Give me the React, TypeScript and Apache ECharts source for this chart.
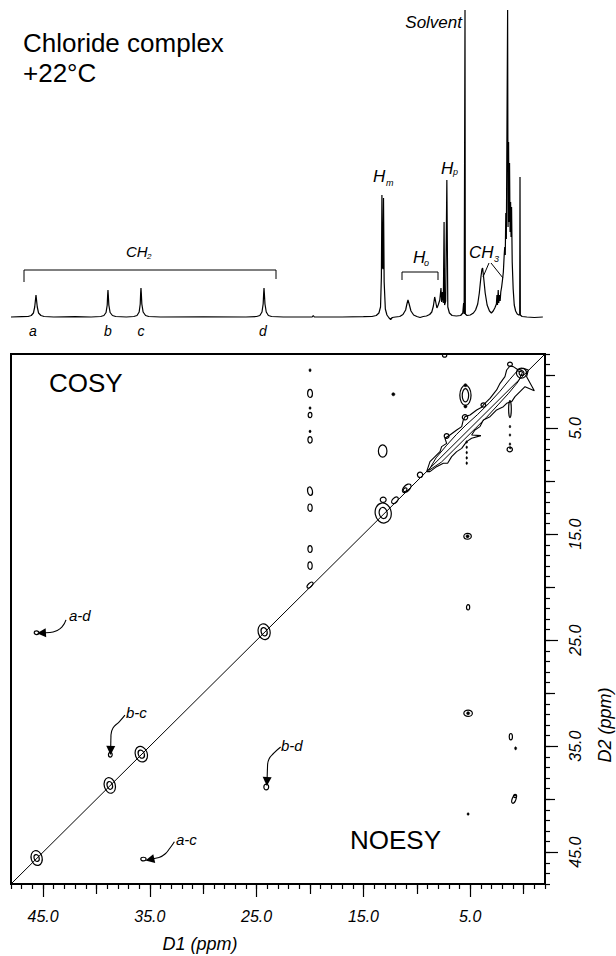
import React, { useEffect, useRef } from "react";
import * as echarts from "echarts";

// ---------- axis ranges (ppm) ----------
const PPM_MIN = -2;
const PPM_MAX = 48;
const INT_MIN = -10;
const INT_MAX = 310;

// ---------- tick values ----------
const majorTicks = [45, 35, 25, 15, 5];
const midTicks = [40, 30, 20, 10, 0];

// ---------- 1D proton spectrum trace: [ppm, intensity] ----------
const spectrum: number[][] = [
  [48.0, 0], [47.0, 0.3], [46.4, 0.5], [46.1, 1.5], [45.9, 4], [45.78, 10], [45.7, 18], [45.66, 22], [45.62, 18], [45.54, 10], [45.42, 4], [45.2, 1.5], [44.9, 0.5], [44.0, 0], [42.0, 0.3], [40.5, 0],
  [39.6, 0.5], [39.3, 1.5], [39.1, 4.5], [38.99, 12], [38.95, 22], [38.92, 27], [38.89, 22], [38.84, 12], [38.72, 4.5], [38.5, 1.5], [38.2, 0.5], [37.2, 0],
  [36.5, 0.5], [36.2, 1.5], [36.0, 5], [35.9, 13], [35.86, 24], [35.83, 29], [35.8, 24], [35.75, 13], [35.63, 5], [35.4, 1.5], [35.1, 0.5], [34.0, 0], [30.0, 0.2], [26.0, 0],
  [25.0, 0.5], [24.7, 1.5], [24.5, 5], [24.39, 13], [24.34, 24], [24.31, 29], [24.28, 24], [24.22, 13], [24.1, 5], [23.9, 1.5], [23.6, 0.5], [22.5, 0],
  [19.8, 0], [19.7, 1.5], [19.6, 0], [17.0, 0], [15.0, 0.3],
  [14.2, 0.5], [13.8, 1.5], [13.55, 4], [13.4, 10], [13.32, 40], [13.27, 122], [13.22, 50], [13.17, 48], [13.12, 119], [13.06, 35], [12.95, 8], [12.8, 2], [12.6, -1], [12.45, -2.5], [12.3, -0.5], [12.0, 0],
  [11.6, 0.5], [11.3, 2.5], [11.05, 7], [10.93, 13], [10.83, 17], [10.72, 13], [10.55, 6], [10.3, 2], [10.0, 0.5], [9.7, -0.5], [9.4, 0.5], [9.1, 1],
  [8.8, 2.5], [8.6, 5], [8.45, 11], [8.33, 20], [8.25, 16], [8.12, 9], [8.0, 12], [7.85, 17], [7.74, 29], [7.68, 15], [7.6, 25], [7.52, 14], [7.45, 95], [7.4, 12], [7.3, 16], [7.19, 137], [7.1, 10], [6.95, 4], [6.7, 1.5], [6.3, 1],
  [5.9, 1.5], [5.7, 4], [5.62, 14], [5.57, 3], [5.52, 3], [5.49, 307], [5.46, 3], [5.3, 1.5], [5.0, 2],
  [4.7, 4], [4.5, 7], [4.3, 13], [4.15, 24], [4.0, 40], [3.9, 48], [3.84, 49], [3.75, 40], [3.6, 24], [3.42, 12], [3.2, 6], [3.02, 4], [2.85, 6], [2.7, 9],
  [2.55, 13], [2.5, 22], [2.45, 12], [2.38, 27], [2.33, 14], [2.27, 22], [2.2, 16], [2.14, 25], [2.06, 30], [1.98, 37], [1.9, 45], [1.82, 62], [1.77, 70], [1.72, 62], [1.67, 104], [1.62, 78], [1.5, 307], [1.46, 90], [1.41, 175], [1.37, 95], [1.32, 154], [1.27, 85], [1.22, 115], [1.18, 80], [1.13, 110], [1.07, 55], [0.98, 28], [0.88, 12], [0.75, 6], [0.6, 3], [0.45, 2], [0.37, 2], [0.34, 140], [0.31, 2], [0.15, 0.5], [-0.3, 0], [-1.0, -0.5], [-1.8, 0],
];

// ---------- 2D map ----------
const diagonal: number[][] = [[48, 48], [-2, -2]];

// contour outlines along the diagonal: [ppm D1, ppm D2]
const outerEnvelope: number[][] = [
  [9.08, 9.10], [8.77, 8.15], [8.30, 7.68], [7.83, 7.21], [7.68, 6.74], [7.21, 6.43], [7.37, 5.95], [6.90, 5.64], [6.27, 5.17], [5.80, 4.85], [5.65, 4.22], [5.49, 3.91], [5.02, 3.75], [4.40, 3.28], [3.93, 3.03], [3.77, 2.81], [3.15, 2.18], [2.53, 1.39], [2.21, 0.77], [1.75, 0.14], [1.59, -0.49], [1.28, -0.87], [0.97, -0.81], [0.50, -0.49], [0.03, -0.65], [-0.44, -0.49],
  [-0.28, 0.14], [-1.0, 1.46], [-0.13, 1.08], [0.34, 1.55], [0.81, 2.02], [1.12, 2.49], [1.59, 2.65], [1.90, 2.97], [2.53, 3.28], [3.15, 3.91], [3.77, 4.22], [4.09, 4.85], [4.56, 5.17], [4.87, 5.64], [4.0, 5.70], [4.87, 5.95], [5.34, 6.27], [5.80, 6.90], [6.27, 7.21], [6.74, 7.68], [7.12, 8.31], [7.52, 8.31], [8.15, 8.63], [8.77, 9.10], [9.08, 9.10],
];
const innerEnvelope: number[][] = [
  [8.9, 9.0], [8.2, 7.8], [7.2, 6.6], [6.3, 5.6], [5.4, 4.7], [4.3, 3.7], [3.2, 2.6], [2.2, 1.5], [1.3, 0.4], [0.6, -0.4], [0.1, -0.3], [0.5, 0.6], [1.4, 1.7], [2.4, 2.8], [3.5, 4.0], [4.5, 5.0], [5.5, 6.0], [6.6, 7.1], [7.7, 8.2], [8.9, 9.0],
];

// contour rings: [ppm D1, ppm D2, width (ppm), height (ppm), tilt (deg)]
const contourRings: number[][] = [
  // diagonal peaks a, b, c, d (outer + inner)
  [45.6, 45.55, 1.03, 1.42, 15], [45.6, 45.55, 0.47, 0.66, 15],
  [38.75, 38.7, 1.03, 1.5, 15], [38.75, 38.7, 0.5, 0.75, 15],
  [35.8, 35.75, 1.12, 1.5, 20], [35.8, 35.75, 0.55, 0.8, 20],
  [24.3, 24.2, 1.12, 1.5, 15], [24.3, 24.2, 0.55, 0.8, 15],
  [20.0, 19.8, 0.7, 0.35, 45],
  // aromatic diagonal
  [13.15, 13.0, 1.5, 1.9, 10], [13.15, 13.0, 0.75, 1.05, 10], [13.15, 11.75, 0.55, 0.5, 0],
  [12.05, 11.8, 0.75, 0.45, 45], [10.95, 10.67, 1.0, 0.55, 45], [11.1, 10.8, 0.4, 0.3, 45], [9.7, 9.4, 0.5, 0.5, 0],
  [7.21, 5.73, 0.45, 0.45, 0], [5.49, 3.97, 0.5, 0.5, 0], [3.77, 2.81, 0.45, 0.4, 0], [1.28, -1.03, 0.45, 0.4, 0],
  [0.2, -0.2, 0.95, 0.95, 0], [0.2, -0.2, 0.45, 0.45, 0],
  // off-diagonal column at 20 ppm
  [20.0, 1.72, 0.45, 0.75, 0], [20.0, 3.75, 0.35, 0.5, 0], [20.0, 6.1, 0.4, 0.6, 0], [20.0, 10.94, 0.45, 0.8, 10], [20.0, 12.5, 0.4, 0.7, 0], [20.0, 16.4, 0.4, 0.65, 0], [20.0, 17.97, 0.4, 0.7, 0],
  // other off-diagonal peaks
  [13.2, 7.15, 0.8, 1.15, 0],
  [5.45, 1.9, 1.05, 1.9, 0], [5.45, 1.9, 0.6, 1.25, 0],
  [7.4, -1.85, 0.4, 0.3, 0],
  [5.25, 15.2, 0.7, 0.55, 0], [5.2, 21.9, 0.3, 0.5, 0], [5.2, 31.9, 0.8, 0.6, 0],
  [1.2, 34.1, 0.3, 0.6, 0], [0.9, 40.0, 0.35, 0.8, -20], [0.8, 39.7, 0.3, 0.3, 0],
  [1.28, 3.2, 0.25, 1.6, 0], [1.3, 7.0, 0.5, 0.45, 0],
  // labelled cross peaks a-d, b-c, b-d, a-c
  [45.6, 24.3, 0.45, 0.35, 0], [38.7, 35.8, 0.35, 0.45, 0], [24.1, 38.85, 0.45, 0.55, 0], [35.6, 45.65, 0.5, 0.35, 0],
];

// filled specks: [ppm D1, ppm D2, width (ppm), height (ppm), tilt]
const contourDots: number[][] = [
  [20.0, -0.47, 0.2, 0.3, 0], [20.0, 3.1, 0.2, 0.25, 0], [20.0, 5.3, 0.2, 0.25, 0],
  [12.2, 1.8, 0.3, 0.3, 0],
  [5.45, 0.95, 0.3, 0.3, 0], [5.45, 2.95, 0.3, 0.3, 0],
  [5.25, 15.2, 0.3, 0.3, 0], [5.2, 31.9, 0.3, 0.3, 0],
  [0.75, 35.2, 0.2, 0.3, 0], [5.2, 41.4, 0.2, 0.25, 0],
  [5.33, 6.3, 0.15, 0.25, 0], [5.33, 6.8, 0.15, 0.25, 0], [5.33, 7.3, 0.15, 0.25, 0], [5.33, 7.8, 0.15, 0.25, 0], [5.33, 8.3, 0.15, 0.25, 0],
  [1.28, 4.85, 0.15, 0.25, 0], [1.28, 5.64, 0.15, 0.25, 0], [1.28, 6.5, 0.15, 0.25, 0], [1.25, 6.85, 0.2, 0.2, 0],
];

// arrow shafts (curved part) and arrow tips, in ppm
const arrowCurves: number[][][] = [
  [[42.85, 23.09], [43.22, 23.75], [43.79, 24.13], [44.35, 24.27]],
  [[37.33, 32.06], [37.89, 32.72], [38.45, 33.28], [38.64, 33.94]],
  [[22.75, 35.08], [23.37, 35.64], [23.84, 36.21], [23.98, 36.87]],
  [[32.70, 44.01], [33.11, 44.60], [33.58, 45.17], [34.14, 45.50]],
];
const arrowTips: number[][][] = [
  [[44.35, 24.27], [45.15, 24.32]],
  [[38.64, 33.94], [38.67, 35.40]],
  [[23.98, 36.87], [24.03, 38.33]],
  [[34.14, 45.50], [35.0, 45.69]],
];

const FONT = '"Liberation Sans", Arial, Helvetica, sans-serif';

function txt(text: string, x: number, y: number, size: number, italic: boolean, align = "left", rotation = 0) {
  const font = `${italic ? "italic " : ""}${size}px ${FONT}`;
  return {
    type: "text",
    x,
    y,
    rotation,
    silent: true,
    z: 100,
    style: {
      text,
      font,
      fill: "#000",
      align,
      textAlign: align,
      verticalAlign: "middle",
      textVerticalAlign: "middle",
    },
  };
}

function pline(points: number[][], width = 1) {
  return {
    type: "polyline",
    silent: true,
    z: 100,
    shape: { points },
    style: { stroke: "#000", lineWidth: width, fill: "none" },
  };
}

const renderEllipse = (filled: boolean) => (_params: any, api: any) => {
  const c = api.coord([api.value(0), api.value(1)]);
  const s = api.size([api.value(2), api.value(3)], [api.value(0), api.value(1)]);
  return {
    type: "ellipse",
    x: c[0],
    y: c[1],
    rotation: ((api.value(4) || 0) * Math.PI) / 180,
    shape: { cx: 0, cy: 0, rx: Math.abs(s[0]) / 2, ry: Math.abs(s[1]) / 2 },
    style: filled
      ? { fill: "#000", stroke: "#000", lineWidth: 0.5 }
      : { fill: "none", stroke: "#000", lineWidth: 1.2 },
  };
};

export default function App() {
  const ref = useRef<HTMLDivElement>(null);

  useEffect(() => {
    if (!ref.current) return;
    const chart = echarts.init(ref.current, undefined, { renderer: "svg" });

    const gridRect = { left: 11, top: 354, width: 534, height: 530 };
    const tickLabel = {
      fontFamily: FONT,
      fontStyle: "italic",
      fontSize: 16,
      color: "#000",
    };

    const hiddenX = (gridIndex: number) => ({
      type: "value",
      gridIndex,
      min: PPM_MIN,
      max: PPM_MAX,
      inverse: true,
      show: false,
    });

    const xTickAxis = (gridIndex: number, len: number, custom: number[] | null, labels: boolean) => ({
      type: "value",
      gridIndex,
      min: PPM_MIN,
      max: PPM_MAX,
      inverse: true,
      position: "bottom",
      ...(custom ? {} : { interval: 1 }),
      axisLine: { show: false, onZero: false },
      splitLine: { show: false },
      axisTick: {
        show: true,
        inside: false,
        length: len,
        lineStyle: { color: "#000", width: 1.2 },
        ...(custom ? { customValues: custom } : {}),
      },
      axisLabel: labels
        ? { show: true, margin: 24, customValues: custom, formatter: (v: number) => v.toFixed(1), ...tickLabel }
        : { show: false },
    });

    const yTickAxis = (gridIndex: number, len: number, custom: number[] | null, labels: boolean) => ({
      type: "value",
      gridIndex,
      min: PPM_MIN,
      max: PPM_MAX,
      inverse: true,
      position: "right",
      ...(custom ? {} : { interval: 1 }),
      axisLine: { show: false, onZero: false },
      splitLine: { show: false },
      axisTick: {
        show: true,
        inside: false,
        length: len,
        lineStyle: { color: "#000", width: 1.2 },
        ...(custom ? { customValues: custom } : {}),
      },
      axisLabel: labels
        ? { show: true, margin: 22, rotate: 90, customValues: custom, formatter: (v: number) => v.toFixed(1), ...tickLabel }
        : { show: false },
    });

    const loopSeries = (data: number[][], width = 1) => ({
      type: "line",
      xAxisIndex: 1,
      yAxisIndex: 1,
      data,
      showSymbol: false,
      symbol: "none",
      silent: true,
      clip: true,
      lineStyle: { color: "#000", width },
      z: 5,
    });

    const option: any = {
      animation: false,
      backgroundColor: "#fff",
      grid: [
        { left: 11, top: 7, width: 534, height: 320, show: false },
        { ...gridRect, show: true, borderColor: "#000", borderWidth: 2, backgroundColor: "transparent", z: 10 },
        { ...gridRect, show: false },
        { ...gridRect, show: false },
      ],
      xAxis: [
        hiddenX(0),
        xTickAxis(1, 13, majorTicks, true),
        xTickAxis(2, 10, midTicks, false),
        xTickAxis(3, 5, null, false),
      ],
      yAxis: [
        { type: "value", gridIndex: 0, min: INT_MIN, max: INT_MAX, show: false },
        yTickAxis(1, 13, majorTicks, true),
        yTickAxis(2, 10, midTicks, false),
        yTickAxis(3, 5, null, false),
      ],
      series: [
        {
          type: "line",
          xAxisIndex: 0,
          yAxisIndex: 0,
          data: spectrum,
          showSymbol: false,
          symbol: "none",
          silent: true,
          clip: false,
          lineStyle: { color: "#000", width: 1.2 },
        },
        loopSeries(diagonal, 1),
        loopSeries(outerEnvelope, 1.1),
        loopSeries(innerEnvelope, 1),
        {
          type: "custom",
          xAxisIndex: 1,
          yAxisIndex: 1,
          data: contourRings,
          encode: { x: 0, y: 1 },
          renderItem: renderEllipse(false),
          silent: true,
          clip: true,
          z: 6,
        },
        {
          type: "custom",
          xAxisIndex: 1,
          yAxisIndex: 1,
          data: contourDots,
          encode: { x: 0, y: 1 },
          renderItem: renderEllipse(true),
          silent: true,
          clip: true,
          z: 6,
        },
        ...arrowCurves.map((c) => ({
          type: "line",
          xAxisIndex: 1,
          yAxisIndex: 1,
          data: c,
          smooth: true,
          showSymbol: false,
          symbol: "none",
          silent: true,
          lineStyle: { color: "#000", width: 1.1 },
          z: 7,
        })),
        {
          type: "lines",
          coordinateSystem: "cartesian2d",
          xAxisIndex: 1,
          yAxisIndex: 1,
          data: arrowTips.map((c) => ({ coords: c })),
          symbol: ["none", "triangle"],
          symbolSize: [6, 9],
          silent: true,
          lineStyle: { color: "#000", width: 1.1, opacity: 1 },
          itemStyle: { color: "#000" },
          z: 7,
        },
      ],
      graphic: [
        txt("Chloride complex", 23, 43, 26, false),
        txt("+22°C", 23, 73, 26, false),
        // 1D annotations
        pline([[24, 282], [24, 270], [276, 270], [276, 279]]),
        txt("CH", 126, 251, 15, true),
        txt("2", 147, 256, 8, true),
        txt("a", 33, 331, 14, true, "center"),
        txt("b", 108, 331, 14, true, "center"),
        txt("c", 141, 331, 14, true, "center"),
        txt("d", 263, 331, 14, true, "center"),
        txt("H", 373, 176, 17, true),
        txt("m", 386, 183, 9, true),
        txt("H", 441, 168, 17, true),
        txt("p", 453, 172, 9, true),
        pline([[402, 280], [402, 272], [438, 272], [438, 280]]),
        txt("H", 413, 257, 17, true),
        txt("o", 424, 263, 9, true),
        txt("CH", 469, 252, 17, true),
        txt("3", 494, 259, 9, true),
        pline([[483, 277], [489, 263]]),
        pline([[491, 263], [503, 278]]),
        txt("Solvent", 462, 22, 17, true, "right"),
        // 2D annotations
        txt("COSY", 49, 383, 26, false),
        txt("NOESY", 350, 840, 26, false),
        txt("a-d", 69, 615, 15, true),
        txt("b-c", 126, 712, 15, true),
        txt("b-d", 281, 745, 15, true),
        txt("a-c", 176, 839, 15, true),
        txt("D1 (ppm)", 200, 944, 18, true, "center"),
        txt("D2 (ppm)", 605, 725, 18, true, "center", Math.PI / 2),
      ],
    };

    chart.setOption(option);
    return () => chart.dispose();
  }, []);

  return (
    <div
      ref={ref}
      style={{ position: "absolute", left: 0, top: 0, width: 616, height: 956, background: "#fff" }}
    />
  );
}
